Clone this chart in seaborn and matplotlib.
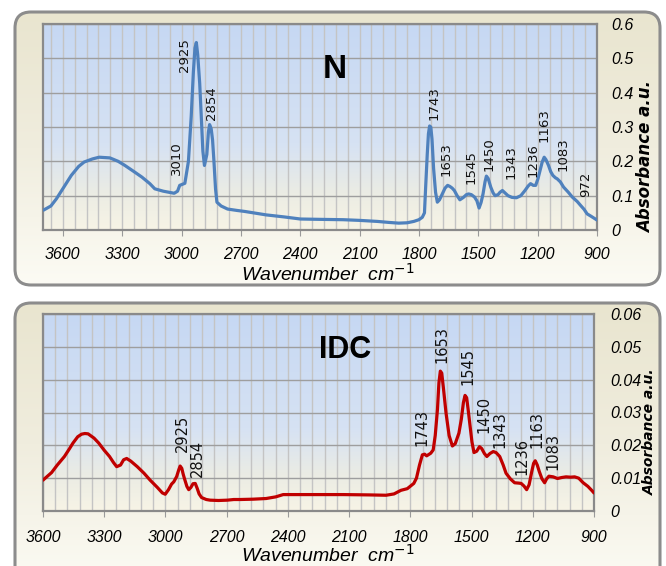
import numpy as np
import pandas as pd
import matplotlib
matplotlib.use('Agg')
from matplotlib import pyplot as plt
from matplotlib.colors import LinearSegmentedColormap
from matplotlib.patches import FancyBboxPatch
from matplotlib.ticker import MultipleLocator, FuncFormatter
import seaborn as sns

# spectrum N
n_wave = [3697, 3660, 3632, 3600, 3557, 3520, 3492, 3450, 3416, 3362, 3320, 3286, 3240, 3200, 3160,
          3135, 3092, 3037, 3020, 3009, 2983, 2965, 2951, 2940, 2932, 2925, 2918, 2908, 2900, 2892,
          2884, 2872, 2864, 2858, 2850, 2843, 2836, 2828, 2821, 2800, 2767, 2720, 2680, 2572, 2480,
          2399, 2300, 2183, 2100, 2010, 1950, 1902, 1860, 1826, 1800, 1783, 1772, 1766, 1758, 1752,
          1746, 1740, 1734, 1726, 1716, 1707, 1696, 1686, 1668, 1655, 1644, 1632, 1621, 1607, 1593,
          1575, 1560, 1549, 1535, 1519, 1507, 1496, 1486, 1476, 1466, 1459, 1450, 1437, 1425, 1415,
          1400, 1390, 1378, 1365, 1350, 1330, 1307, 1285, 1264, 1248, 1236, 1222, 1210, 1198, 1188,
          1177, 1167, 1158, 1145, 1134, 1123, 1110, 1101, 1085, 1069, 1045, 1025, 1000, 982, 965,
          950, 930, 900]
n_abs = [0.058, 0.070, 0.091, 0.120, 0.159, 0.185, 0.198, 0.207, 0.212, 0.210, 0.200, 0.188, 0.170, 0.154, 0.135,
         0.120, 0.113, 0.107, 0.113, 0.130, 0.136, 0.200, 0.330, 0.460, 0.530, 0.546, 0.510, 0.427, 0.330, 0.230,
         0.188, 0.220, 0.285, 0.307, 0.295, 0.262, 0.200, 0.120, 0.081, 0.070, 0.061, 0.057, 0.054, 0.044, 0.038,
         0.032, 0.031, 0.030, 0.028, 0.025, 0.022, 0.020, 0.021, 0.025, 0.030, 0.037, 0.050, 0.125, 0.220, 0.280,
         0.303, 0.300, 0.265, 0.180, 0.110, 0.081, 0.088, 0.100, 0.122, 0.130, 0.127, 0.122, 0.115, 0.100, 0.088,
         0.095, 0.103, 0.105, 0.103, 0.096, 0.085, 0.064, 0.080, 0.105, 0.140, 0.157, 0.150, 0.125, 0.108, 0.100,
         0.103, 0.110, 0.115, 0.108, 0.100, 0.095, 0.094, 0.100, 0.115, 0.128, 0.135, 0.130, 0.130, 0.150, 0.173,
         0.198, 0.212, 0.205, 0.188, 0.170, 0.159, 0.152, 0.149, 0.140, 0.125, 0.110, 0.096, 0.083, 0.071, 0.060,
         0.047, 0.040, 0.029]

# spectrum IDC
idc_wave = [3600, 3580, 3558, 3530, 3495, 3470, 3453, 3430, 3411, 3395, 3379, 3350, 3327, 3300, 3274,
            3255, 3239, 3220, 3205, 3190, 3170, 3138, 3105, 3075, 3040, 3015, 3001, 2985, 2970, 2959,
            2945, 2935, 2928, 2920, 2913, 2907, 2895, 2886, 2875, 2865, 2854, 2845, 2835, 2823, 2800,
            2781, 2740, 2697, 2665, 2634, 2570, 2507, 2460, 2423, 2300, 2129, 2000, 1919, 1880, 1846,
            1815, 1795, 1783, 1770, 1755, 1741, 1730, 1720, 1700, 1688, 1678, 1667, 1660, 1653, 1646,
            1638, 1625, 1610, 1594, 1580, 1562, 1550, 1540, 1532, 1524, 1515, 1509, 1498, 1488, 1475,
            1461, 1450, 1437, 1425, 1410, 1394, 1380, 1362, 1345, 1331, 1310, 1289, 1270, 1257, 1243,
            1230, 1218, 1205, 1196, 1188, 1178, 1168, 1155, 1142, 1132, 1121, 1100, 1079, 1058, 1037,
            1015, 995, 975, 953, 930, 910, 900]
idc_abs = [0.0094, 0.0105, 0.0117, 0.0140, 0.0166, 0.0190, 0.0207, 0.0226, 0.0234, 0.0236, 0.0235, 0.0222, 0.0207, 0.0185, 0.0166,
           0.0148, 0.0135, 0.0140, 0.0156, 0.0160, 0.0152, 0.0135, 0.0115, 0.0094, 0.0072, 0.0055, 0.0051, 0.0065, 0.0082, 0.0089,
           0.0105, 0.0125, 0.0137, 0.0130, 0.0112, 0.0099, 0.0075, 0.0065, 0.0072, 0.0083, 0.0084, 0.0070, 0.0052, 0.0041, 0.0035,
           0.0033, 0.0032, 0.0033, 0.0035, 0.0035, 0.0036, 0.0038, 0.0043, 0.0050, 0.0050, 0.0050, 0.0049, 0.0048, 0.0052, 0.0063,
           0.0068, 0.0078, 0.0084, 0.0100, 0.0140, 0.0171, 0.0173, 0.0168, 0.0176, 0.0186, 0.0230, 0.0310, 0.0390, 0.0426, 0.0420,
           0.0375, 0.0298, 0.0230, 0.0198, 0.0205, 0.0237, 0.0280, 0.0330, 0.0352, 0.0345, 0.0300, 0.0268, 0.0210, 0.0178, 0.0182,
           0.0196, 0.0190, 0.0175, 0.0166, 0.0175, 0.0181, 0.0178, 0.0166, 0.0140, 0.0115, 0.0098, 0.0086, 0.0085, 0.0084, 0.0076,
           0.0065, 0.0080, 0.0120, 0.0145, 0.0153, 0.0140, 0.0120, 0.0098, 0.0086, 0.0098, 0.0106, 0.0104, 0.0099, 0.0102, 0.0104,
           0.0103, 0.0104, 0.0100, 0.0086, 0.0075, 0.0062, 0.0055]

# peak labels: text, x, y of label foot
n_peaks = ['3010', '2925', '2854', '1743', '1653', '1545', '1450', '1343', '1236', '1163', '1083', '972']
n_peak_x = [3027, 2983, 2847, 1724, 1664, 1534, 1447, 1333, 1225, 1170, 1073, 960]
n_peak_y = [0.159, 0.461, 0.320, 0.320, 0.156, 0.133, 0.173, 0.149, 0.154, 0.256, 0.173, 0.096]

idc_peaks = ['2925', '2854', '1743', '1653', '1545', '1450', '1343', '1236', '1163', '1083']
idc_peak_x = [2917, 2844, 1741, 1646, 1520, 1440, 1362, 1251, 1178, 1100]
idc_peak_y = [0.0181, 0.0104, 0.0198, 0.0450, 0.0385, 0.0237, 0.0191, 0.0109, 0.0191, 0.0125]

W, H = 666, 566
sans = ['Liberation Sans', 'DejaVu Sans']

fig = plt.figure(figsize=(W / 100, H / 100), dpi=100)

# background layer in pixel units for the rounded frames
bg = fig.add_axes([0, 0, 1, 1], zorder=-5)
bg.set_xlim(0, W)
bg.set_ylim(0, H)
bg.axis('off')
frame_cmap = LinearSegmentedColormap.from_list('frame', ['#fcfbf4', '#f0edde', '#e9e5cf'])
for x0, y0, x1, y1 in [(15, H - 285, 660, H - 12), (15, -20, 660, H - 303)]:
    box = FancyBboxPatch((x0, y0), x1 - x0, y1 - y0, boxstyle='round,pad=0,rounding_size=16',
                         facecolor='none', edgecolor='#8c8c8c', linewidth=2.2, zorder=3)
    bg.add_patch(box)
    grad = np.linspace(0, 1, 200).reshape(-1, 1)
    im = bg.imshow(grad, extent=[x0, x1, y0, y1], origin='lower', cmap=frame_cmap, aspect='auto', zorder=1)
    im.set_clip_path(box)

plot_cmap = LinearSegmentedColormap.from_list('plot', [(0, '#f7f4e6'), (0.18, '#ebece4'),
                                                       (0.42, '#d6e2f4'), (1, '#c6d8f3')])


def draw_panel(rect, wave, absb, color, xmax, ymax, ystep, yfmt, title, title_xy, title_size,
               peaks, px, py, peak_size, ylabel_xy, ylabel_size, xlabel_y, tick_pad_y, tick_pad_x):
    ax = fig.add_axes(rect)
    ax.set_facecolor('none')
    ax.imshow(np.linspace(0, 1, 200).reshape(-1, 1), extent=[0, 1, 0, 1], origin='lower',
              transform=ax.transAxes, cmap=plot_cmap, aspect='auto', zorder=0)
    df = pd.DataFrame({'Wavenumber': wave, 'Absorbance': absb})
    sns.lineplot(data=df, x='Wavenumber', y='Absorbance', ax=ax, color=color, linewidth=2.3, zorder=4,
                 solid_joinstyle='round', solid_capstyle='round')
    ax.set_xlim(xmax, 900)
    ax.set_ylim(0, ymax)
    ax.set_aspect('auto')
    ax.xaxis.set_major_locator(MultipleLocator(300))
    ax.xaxis.set_minor_locator(MultipleLocator(60))
    ax.yaxis.set_major_locator(MultipleLocator(ystep))
    ax.yaxis.set_major_formatter(FuncFormatter(lambda v, p: '0' if abs(v) < 1e-9 else yfmt.format(v)))
    ax.grid(True, which='major', axis='y', color='#9e9e9e', linewidth=1.0, zorder=1)
    ax.grid(True, which='both', axis='x', color='#c4c4c4', linewidth=1.0, zorder=1)
    ax.set_axisbelow(True)
    ax.yaxis.tick_right()
    ax.tick_params(axis='y', length=0, pad=tick_pad_y, labelsize=11.5)
    ax.tick_params(axis='x', which='major', length=4, color='#9a9a9a', direction='out', pad=tick_pad_x, labelsize=11.5)
    ax.tick_params(axis='x', which='minor', length=0)
    for lab in ax.get_xticklabels() + ax.get_yticklabels():
        lab.set_family(sans)
        lab.set_style('italic')
    for s in ax.spines.values():
        s.set_color('#8a8a8a')
        s.set_linewidth(1.6)
    ax.set_xlabel('')
    ax.set_ylabel('')
    for t, x, y in zip(peaks, px, py):
        ax.text(x, y, t, rotation=90, ha='center', va='bottom', fontsize=peak_size, color='#111111', zorder=5)
    fig.text(title_xy[0] / W, 1 - title_xy[1] / H, title, ha='center', va='center',
             fontsize=title_size, fontweight='bold', family=sans)
    fig.text(ylabel_xy[0] / W, 1 - ylabel_xy[1] / H, 'Absorbance a.u.', rotation=90, ha='center', va='center',
             fontsize=ylabel_size, fontweight='bold', style='italic')
    fig.text(328 / W, 1 - xlabel_y / H, 'Wavenumber  cm$^{-1}$', ha='center', va='center',
             fontsize=14, style='italic', family=sans)
    return ax


draw_panel([43 / W, 1 - 230 / H, 554 / W, 206 / H], n_wave, n_abs, '#4f81bd', 3700, 0.6, 0.1, '{:.1f}',
           'N', (335, 70), 24, n_peaks, n_peak_x, n_peak_y, 9.5, (646, 157), 12, 274, 10, 8)
draw_panel([43 / W, 1 - 511 / H, 551 / W, 197 / H], idc_wave, idc_abs, '#c00000', 3600, 0.06, 0.01, '{:.2f}',
           'IDC', (345, 350), 22, idc_peaks, idc_peak_x, idc_peak_y, 10.5, (650, 432), 10, 555, 12, 10)

plt.savefig('out.png', dpi=100)
